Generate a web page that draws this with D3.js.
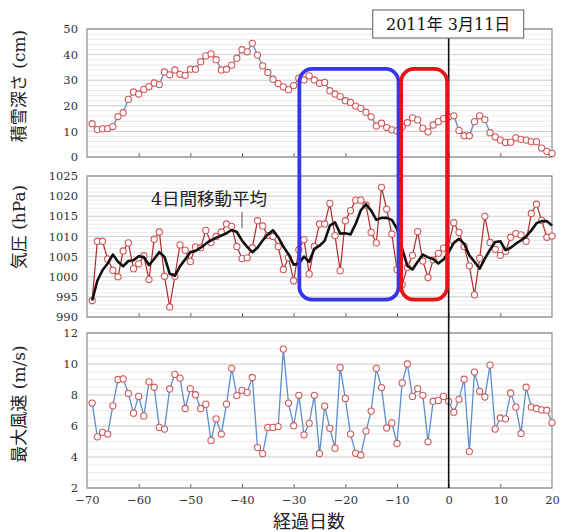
<!DOCTYPE html>
<html>
<head>
<meta charset="utf-8">
<script src="https://cdn.jsdelivr.net/npm/d3@7"></script>
<style>
  html, body { margin: 0; padding: 0; background: #fff; }
  svg { display: block; }
</style>
</head>
<body>
<svg id="chart" width="561" height="532"></svg>
<script>
// Days relative to 2011-03-11 (day 0)
const days = [
  -69,-68,-67,-66,-65,-64,-63,-62,-61,-60,
  -59,-58,-57,-56,-55,-54,-53,-52,-51,-50,
  -49,-48,-47,-46,-45,-44,-43,-42,-41,-40,
  -39,-38,-37,-36,-35,-34,-33,-32,-31,-30,
  -29,-28,-27,-26,-25,-24,-23,-22,-21,-20,
  -19,-18,-17,-16,-15,-14,-13,-12,-11,-10,
  -9,-8,-7,-6,-5,-4,-3,-2,-1,0,
  1,2,3,4,5,6,7,8,9,10,
  11,12,13,14,15,16,17,18,19,20
];

// Snow depth (cm)
const snowDepth = [
  13.0,10.7,11.0,11.1,11.9,15.8,17.3,22.5,25.4,24.6,
  26.4,27.5,28.9,28.3,33.2,32.1,34.0,32.3,31.9,34.3,
  34.3,37.2,39.5,40.3,38.0,34.0,34.3,35.9,38.6,41.9,
  41.1,44.4,39.8,35.6,33.0,30.4,28.7,27.4,26.3,27.9,
  30.8,30.1,31.7,30.1,28.8,29.1,25.9,24.6,23.6,22.0,
  21.3,19.9,19.0,17.5,15.7,12.1,13.2,11.5,10.6,10.2,
  11.8,13.4,15.3,14.5,11.2,9.8,12.5,13.8,15.0,15.7,
  16.1,10.4,8.3,8.3,13.8,16.1,14.6,9.5,7.9,6.6,
  5.7,5.8,7.5,6.9,6.6,6.0,6.0,3.5,2.2,1.4
];

// Daily pressure (hPa)
const pressure = [
  994.1,1008.8,1008.8,1004.4,1001.6,1000.0,1006.4,1008.4,1002.0,1003.2,
  1005.2,999.3,1009.3,1011.1,1000.1,992.5,1000.1,1007.9,1006.6,1003.8,
  1007.4,1007.2,1011.5,1008.5,1010.0,1011.1,1013.1,1012.5,1007.5,1004.5,
  1004.7,1007.2,1013.9,1012.6,1010.2,1010.0,1007.5,1001.8,1004.7,999.0,
  1006.7,1009.2,1000.7,1007.5,1013.1,1013.1,1018.2,1010.2,1001.5,1013.9,
  1016.4,1019.0,1019.0,1017.8,1011.0,1008.4,1022.2,1016.8,1010.6,1001.8,
  998.0,1002.3,1005.3,1011.2,1003.9,999.8,1004.2,1005.8,1007.1,1007.9,
  1013.4,1011.0,1007.5,1002.7,995.5,1004.6,1015.0,1008.5,1006.8,1005.3,
  1006.3,1009.8,1010.7,1010.4,1008.8,1015.7,1018.0,1014.0,1009.8,1010.1
];

// 4-day moving average of pressure (hPa)
const pressureAvg = [
  994.1,999.0,1001.6,1003.3,1005.5,1003.7,1002.6,1003.9,1004.1,1005.1,
  1004.9,1002.9,1004.4,1006.1,1004.9,1000.8,1000.2,1002.6,1004.3,1006.1,
  1006.4,1007.2,1008.2,1009.0,1009.7,1010.2,1010.8,1011.6,1011.1,1009.0,
  1007.4,1006.1,1007.2,1009.0,1010.5,1011.5,1009.8,1007.5,1005.6,1003.0,
  1003.2,1005.0,1003.7,1006.9,1007.7,1008.9,1012.7,1013.5,1010.7,1010.8,
  1010.5,1013.1,1016.5,1018.0,1016.4,1014.1,1014.6,1014.6,1014.1,1011.9,
  1007.0,1002.7,1001.8,1003.7,1005.5,1004.8,1004.4,1003.3,1004.3,1006.1,
  1008.4,1009.4,1008.2,1005.3,1003.7,1002.0,1004.5,1006.7,1008.6,1008.8,
  1006.6,1007.2,1008.2,1009.0,1010.0,1011.5,1013.3,1013.8,1013.8,1012.7
];

// Maximum wind speed (m/s)
const windMax = [
  7.48,5.30,5.59,5.48,7.30,9.00,9.04,8.11,6.83,7.91,
  6.65,8.85,8.50,5.91,5.80,8.39,9.33,9.09,7.13,8.41,
  8.02,7.13,7.41,5.07,6.46,5.48,7.41,9.72,7.96,8.30,
  8.17,9.13,4.61,4.22,5.91,5.91,5.96,10.96,7.48,6.02,
  7.98,5.43,6.17,7.98,4.22,7.28,5.85,4.57,9.78,7.78,
  5.48,4.24,4.13,5.67,6.96,9.72,8.48,5.87,6.20,4.87,
  8.78,10.00,7.91,8.41,7.98,4.98,7.60,7.65,7.91,7.59,
  6.89,7.72,9.02,4.35,9.48,8.24,7.87,9.93,5.80,6.52,
  6.46,8.13,7.22,5.52,8.50,7.22,7.13,7.04,7.02,6.22
];

// Axis ticks
const xTicks = [-70,-60,-50,-40,-30,-20,-10,0,10,20];
const snowTicks = [0,10,20,30,40,50];
const pressureTicks = [990,995,1000,1005,1010,1015,1020,1025];
const windTicks = [2,4,6,8,10,12];

// Highlighted periods (days) and event label
const blueSpan = [-28.9, -9.7];
const redSpan = [-9.2, -0.3];
const eventLabel = "2011年 3月11日";
const avgLabel = "4日間移動平均";

const svg = d3.select("#chart");
const left = 87, right = 552;
const numFont = "'DejaVu Serif', 'Noto Sans CJK JP', serif";
const jpFont = "'DejaVu Serif', 'Noto Sans CJK JP', sans-serif";

const x = d3.scaleLinear().domain([-70, 20]).range([left, right]);

const panels = [
  { top: 29, bottom: 157, domain: [0, 50], ticks: snowTicks, minor: 2,
    title: "積雪深さ (cm)", titleY: 86 },
  { top: 176, bottom: 317, domain: [990, 1025], ticks: pressureTicks, minor: 1,
    title: "気圧 (hPa)", titleY: 227 },
  { top: 333, bottom: 488, domain: [2, 12], ticks: windTicks, minor: 0.5,
    title: "最大風速 (m/s)", titleY: 404 }
];
panels.forEach(p => {
  p.y = d3.scaleLinear().domain(p.domain).range([p.bottom, p.top]);
});
const [ySnow, yPres, yWind] = panels.map(p => p.y);

// Panel frames, grids, ticks
panels.forEach(p => {
  const g = svg.append("g");
  const minorVals = d3.range(p.domain[0], p.domain[1] + 1e-9, p.minor);
  g.selectAll("line.minor").data(minorVals).join("line")
    .attr("x1", left).attr("x2", right)
    .attr("y1", d => p.y(d)).attr("y2", d => p.y(d))
    .attr("stroke", "#ebebeb").attr("stroke-width", 1);
  g.selectAll("line.major").data(p.ticks).join("line")
    .attr("x1", left).attr("x2", right)
    .attr("y1", d => p.y(d)).attr("y2", d => p.y(d))
    .attr("stroke", "#d2d2d2").attr("stroke-width", 1);

  // y axis labels
  const yAxis = d3.axisLeft(p.y).tickValues(p.ticks).tickSize(0).tickPadding(10)
    .tickFormat(d3.format("d"));
  const ya = g.append("g").attr("transform", `translate(${left},0)`).call(yAxis);
  ya.select(".domain").remove();
  ya.selectAll("text").attr("font-family", numFont).attr("font-size", 11.5)
    .attr("fill", "#333").attr("dx", "1");

  // bottom ticks (inside)
  const xAxis = d3.axisTop(x).tickValues(xTicks.slice(1, -1)).tickSize(4).tickFormat("");
  const xa = g.append("g").attr("transform", `translate(0,${p.bottom})`).call(xAxis);
  xa.select(".domain").remove();
  xa.selectAll("line").attr("stroke", "#666");

  g.append("rect")
    .attr("x", left).attr("y", p.top)
    .attr("width", right - left).attr("height", p.bottom - p.top)
    .attr("fill", "none").attr("stroke", "#8a8a8a").attr("stroke-width", 1.2);

  svg.append("text")
    .attr("transform", `translate(25,${p.titleY}) rotate(-90)`)
    .attr("text-anchor", "middle")
    .attr("font-family", jpFont).attr("font-size", 17).attr("fill", "#222")
    .text(p.title);
});

// x-axis labels under the bottom panel
const xAxisB = d3.axisBottom(x).tickValues(xTicks).tickSize(0).tickPadding(8)
  .tickFormat(d3.format("d"));
const xb = svg.append("g").attr("transform", `translate(0,${panels[2].bottom})`).call(xAxisB);
xb.select(".domain").remove();
xb.selectAll("text").attr("font-family", numFont).attr("font-size", 11.5).attr("fill", "#333");

svg.append("text")
  .attr("x", 309).attr("y", 528)
  .attr("text-anchor", "middle")
  .attr("font-family", "'Noto Sans CJK JP', sans-serif").attr("font-size", 18).attr("fill", "#222")
  .text("経過日数");

// Series drawing helper
function drawSeries(values, yScale, lineColor, lineWidth) {
  const pts = days.map((d, i) => [d, values[i]]);
  const line = d3.line().x(d => x(d[0])).y(d => yScale(d[1]));
  svg.append("path").datum(pts)
    .attr("d", line).attr("fill", "none")
    .attr("stroke", lineColor).attr("stroke-width", lineWidth);
  svg.append("g").selectAll("circle").data(pts).join("circle")
    .attr("cx", d => x(d[0])).attr("cy", d => yScale(d[1]))
    .attr("r", 3.1)
    .attr("fill", "#fff").attr("stroke", "#d0585a").attr("stroke-width", 1.1);
}

drawSeries(snowDepth, ySnow, "#5b8fcc", 1.3);
drawSeries(pressure, yPres, "#b02a2a", 1.2);
drawSeries(windMax, yWind, "#5b8fcc", 1.3);

// Moving average line
const avgPts = days.map((d, i) => [d, pressureAvg[i]]);
svg.append("path").datum(avgPts)
  .attr("d", d3.line().x(d => x(d[0])).y(d => yPres(d[1])))
  .attr("fill", "none").attr("stroke", "#111").attr("stroke-width", 2.6)
  .attr("stroke-linejoin", "round");

// Moving average label with pointer
svg.append("text")
  .attr("x", 209).attr("y", 205)
  .attr("text-anchor", "middle")
  .attr("font-family", jpFont).attr("font-size", 17.5).attr("fill", "#222")
  .text(avgLabel);
svg.append("line")
  .attr("x1", x(-40)).attr("x2", x(-40))
  .attr("y1", 212).attr("y2", 228)
  .attr("stroke", "#555").attr("stroke-width", 1);

// Event line at day 0
svg.append("line")
  .attr("x1", x(0)).attr("x2", x(0))
  .attr("y1", 30).attr("y2", panels[2].bottom)
  .attr("stroke", "#111").attr("stroke-width", 1.6);

// Highlight frames
const boxTop = ySnow(34.4), boxBottom = yPres(994.3);
function frame(span, color) {
  svg.append("rect")
    .attr("x", x(span[0])).attr("y", boxTop)
    .attr("width", x(span[1]) - x(span[0])).attr("height", boxBottom - boxTop)
    .attr("rx", 13).attr("ry", 13)
    .attr("fill", "none").attr("stroke", color).attr("stroke-width", 3.8);
}
frame(blueSpan, "#3535ee");
frame(redSpan, "#e61414");

// Event label box
const lbl = svg.append("g");
lbl.append("rect")
  .attr("x", x(0) - 76).attr("y", 10).attr("width", 151).attr("height", 28)
  .attr("fill", "#fff").attr("stroke", "#777").attr("stroke-width", 1.2);
lbl.append("text")
  .attr("x", x(0) - 0.5).attr("y", 30)
  .attr("text-anchor", "middle")
  .attr("font-family", jpFont).attr("font-size", 16).attr("fill", "#111")
  .text(eventLabel);
</script>
</body>
</html>
